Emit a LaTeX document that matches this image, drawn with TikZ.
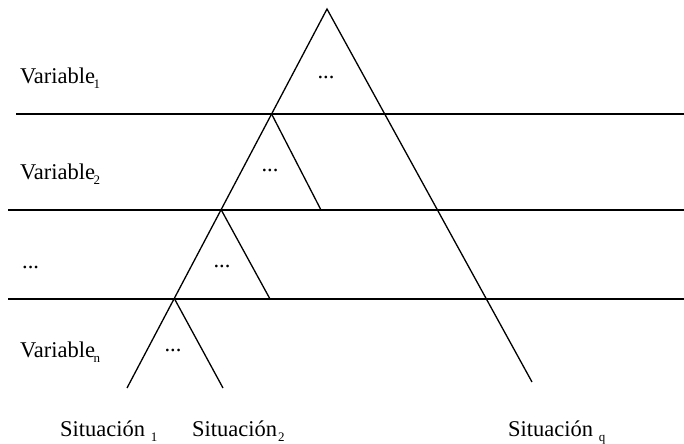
\documentclass[tikz,border=0pt]{standalone}
\usepackage{fontspec}
\setmainfont{Liberation Serif}
\newcommand{\sbs}[1]{\raisebox{-5bp}{\fontsize{13bp}{13bp}\selectfont #1}}
\begin{document}
\begin{tikzpicture}[x=1bp,y=-1bp,
  ln/.style={line width=1.3bp,line cap=butt},
  lbl/.style={anchor=base west,inner sep=0pt,font=\fontsize{22.5bp}{26bp}\selectfont},
  dots/.style={anchor=base,inner sep=0pt,font=\fontsize{22.5bp}{26bp}\selectfont}]
\useasboundingbox (0,0) rectangle (684,444);
% horizontal lines
\coordinate (h1l) at (16,114); \coordinate (h1r) at (684,114);
\coordinate (h2l) at (8,210);  \coordinate (h2r) at (684,210);
\coordinate (h3l) at (8,299);  \coordinate (h3r) at (684,299);
\draw[ln] (h1l) -- (h1r);
\draw[ln] (h2l) -- (h2r);
\draw[ln] (h3l) -- (h3r);
% triangles
\coordinate (top) at (327,9);
\coordinate (bl) at (127,388);
\coordinate (br) at (532,382);
\coordinate (a1) at (271.6,114);
\coordinate (a2) at (221.3,210);
\coordinate (a3) at (174.6,299);
\coordinate (e1) at (321,210);
\coordinate (e2) at (270,299);
\coordinate (e3) at (223,388);
\draw[ln] (bl) -- (top) -- (br);
\draw[ln] (a1) -- (e1);
\draw[ln] (a2) -- (e2);
\draw[ln] (a3) -- (e3);
% dots inside triangles
\node[dots] (d0) at (326,79) {...};
\node[dots] (d1) at (270,172) {...};
\node[dots] (d2) at (222,268) {...};
\node[dots] (d3) at (173,351) {...};
% left labels
\node[lbl] (v1) at (20,84) {Variable\kern-1.5bp\sbs{1}};
\node[lbl] (v2) at (20,180) {Variable\kern-1.5bp\sbs{2}};
\node[lbl] (vd) at (22,269) {...};
\node[lbl] (vn) at (20,357) {Variable\kern-1.5bp\sbs{n}};
% bottom labels
\node[lbl] (s1) at (60,436) {Situación \sbs{1}};
\node[lbl] (s2) at (192,436) {Situación\kern1bp\sbs{2}};
\node[lbl] (sq) at (508,436) {Situación \sbs{q}};
\end{tikzpicture}
\end{document}
